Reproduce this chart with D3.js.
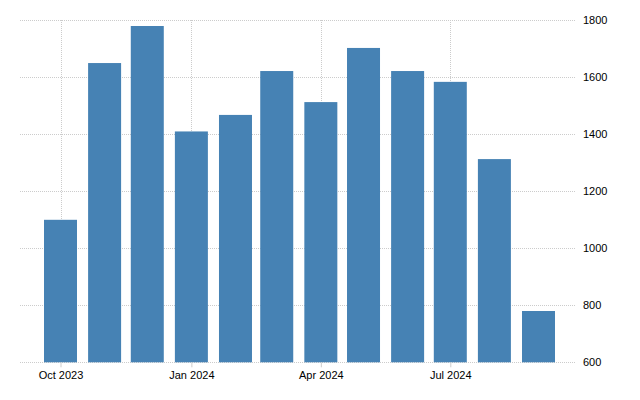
<!DOCTYPE html>
<html>
<head>
<meta charset="utf-8">
<script src="https://cdn.jsdelivr.net/npm/d3@7"></script>
<style>
  body { margin: 0; background: #fff; }
  svg { display: block; font-family: "Liberation Sans", Arial, sans-serif; }
  .grid line { stroke: #cccccc; stroke-dasharray: 1,1; shape-rendering: crispEdges; }
  .axis text { font-size: 11px; fill: #000; }
  .axis .domain { display: none; }
</style>
</head>
<body>
<svg id="chart" width="640" height="400"></svg>
<script>
// monthly values, Oct 2023 .. Sep 2024
var months = ["2023-10", "2023-11", "2023-12", "2024-01", "2024-02", "2024-03",
              "2024-04", "2024-05", "2024-06", "2024-07", "2024-08", "2024-09"];
var values = [1100, 1650, 1780, 1410, 1468, 1622, 1513, 1703, 1622, 1584, 1313, 780];
var yTicks = [600, 800, 1000, 1200, 1400, 1600, 1800];

var parseMonth = d3.timeParse("%Y-%m");
var data = months.map(function(m, i) { return {date: parseMonth(m), value: values[i]}; });

var svg = d3.select("#chart");

// plot box (note: "top" is taken by window.top, so prefixed names)
var plotLeft = 19, plotRight = 575, plotTop = 20.3, plotBottom = 362.3;

var x = d3.scaleTime()
  .domain([data[0].date, data[data.length - 1].date])
  .range([60.5, 538.5]);

var y = d3.scaleLinear()
  .domain([600, 1800])
  .range([plotBottom, plotTop]);

var barWidth = 33;

// horizontal grid + right labels
svg.append("g")
  .attr("class", "axis grid")
  .attr("transform", "translate(" + plotRight + ",0)")
  .call(d3.axisRight(y)
    .tickValues(yTicks)
    .tickSize(-(plotRight - plotLeft))
    .tickPadding(8)
    .tickFormat(d3.format("d")));

// vertical grid at quarter ticks
var xTicks = x.ticks(d3.timeMonth.every(3));
svg.append("g")
  .attr("class", "grid")
  .selectAll("line")
  .data(xTicks)
  .join("line")
  .attr("x1", function(d) { return Math.round(x(d)) + 0.5; })
  .attr("x2", function(d) { return Math.round(x(d)) + 0.5; })
  .attr("y1", plotTop)
  .attr("y2", plotBottom);

// bars
svg.append("g")
  .selectAll("rect")
  .data(data)
  .join("rect")
  .attr("x", function(d) { return x(d.date) - barWidth / 2; })
  .attr("y", function(d) { return y(d.value); })
  .attr("width", barWidth)
  .attr("height", function(d) { return y(600) - y(d.value); })
  .attr("fill", "#4682b4");

// bottom axis: small ticks and month labels
var xAxis = svg.append("g")
  .attr("class", "axis")
  .attr("transform", "translate(0," + plotBottom + ")")
  .call(d3.axisBottom(x)
    .ticks(d3.timeMonth.every(3))
    .tickSize(5)
    .tickPadding(4)
    .tickFormat(d3.timeFormat("%b %Y")));

xAxis.selectAll(".tick line").attr("stroke", "#cccccc");
</script>
</body>
</html>
